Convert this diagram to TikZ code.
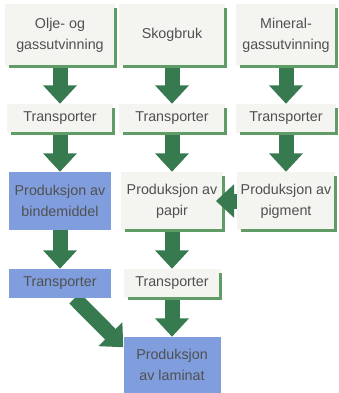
\documentclass[tikz,border=0pt]{standalone}
\usepackage{fontspec}
\setmainfont{Liberation Sans}
\usepackage{tikz}
\usetikzlibrary{arrows.meta, backgrounds}

\definecolor{arrowgreen}{RGB}{56,122,80}
\definecolor{rimgreen}{RGB}{96,156,102}
\definecolor{bluefill}{RGB}{128,158,222}
\definecolor{boxfill}{RGB}{244,244,241}
\definecolor{textgray}{RGB}{80,80,80}

\tikzset{
	box/.style={rectangle, inner sep=0pt, align=center, text=textgray,
		font=\fontsize{12.2}{18}\selectfont},
	plainbox/.style={box, fill=boxfill},
	bluebox/.style={box, fill=bluefill},
	flow/.style={draw=arrowgreen, line width=0.45cm,
		-{Triangle[width=0.98cm, length=0.55cm]}},
	rim/.style={draw=rimgreen, line width=2.2pt}
}

\begin{document}
\begin{tikzpicture}
	\useasboundingbox (0,0) rectangle (10.14,-11.79);

	\node[plainbox, minimum width=3.3cm, minimum height=1.86cm] (olje) at (1.8,-1.05) {Olje- og\\gassutvinning};
	\node[plainbox, minimum width=3.2cm, minimum height=1.86cm] (skog) at (5.16,-1.05) {Skogbruk};
	\node[plainbox, minimum width=3.0cm, minimum height=1.86cm] (mineral) at (8.58,-1.05) {Mineral-\\gassutvinning};

	\node[plainbox, minimum width=3.2cm, minimum height=0.87cm] (t1) at (1.8,-3.555) {Transporter};
	\node[plainbox, minimum width=3.2cm, minimum height=0.87cm] (t2) at (5.16,-3.555) {Transporter};
	\node[plainbox, minimum width=3.0cm, minimum height=0.87cm] (t3) at (8.58,-3.555) {Transporter};

	\node[bluebox, minimum width=3.06cm, minimum height=1.74cm] (bind) at (1.8,-6.03) {Produksjon av\\bindemiddel};
	\node[plainbox, minimum width=3.06cm, minimum height=1.74cm] (papir) at (5.16,-6.03) {Produksjon av\\papir};
	\node[plainbox, minimum width=2.94cm, minimum height=1.74cm] (pigment) at (8.58,-6.03) {Produksjon av\\pigment};

	\node[bluebox, minimum width=3.06cm, minimum height=0.87cm] (t4) at (1.8,-8.505) {Transporter};
	\node[plainbox, minimum width=2.91cm, minimum height=0.87cm] (t5) at (5.16,-8.505) {Transporter};

	\node[bluebox, minimum width=2.91cm, minimum height=1.68cm] (laminat) at (5.16,-10.95) {Produksjon\\av laminat};

	% green edge on the right and bottom of the light boxes
	\foreach \b in {olje, skog, mineral, t1, t2, t3, papir, pigment, t5}{
		\draw[rim] ([yshift=-4pt]\b.north east) -- (\b.south east) -- ([xshift=4pt]\b.south west);
	}

	\begin{scope}[on background layer]
		\draw (olje) edge[flow] (t1)
		      (skog) edge[flow] (t2)
		      (mineral) edge[flow] (t3)
		      (t1) edge[flow] (bind)
		      (t2) edge[flow] (papir)
		      (t3) edge[flow] (pigment)
		      (bind) edge[flow] (t4)
		      (papir) edge[flow] (t5)
		      (t5) edge[flow] (laminat)
		      (t4) edge[flow] (laminat.160);
	\end{scope}

	\draw (pigment) edge[flow, shorten >=-0.22cm] (papir);
\end{tikzpicture}
\end{document}
